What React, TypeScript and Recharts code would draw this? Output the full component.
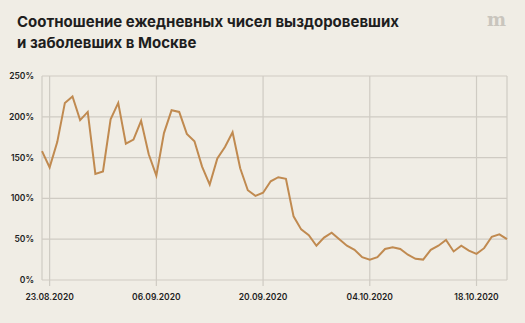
import React from 'react';
import { LineChart, Line, XAxis, YAxis, CartesianGrid } from 'recharts';

const dates = [
  '22.08.2020', '23.08.2020', '24.08.2020', '25.08.2020', '26.08.2020', '27.08.2020', '28.08.2020',
  '29.08.2020', '30.08.2020', '31.08.2020', '01.09.2020', '02.09.2020', '03.09.2020', '04.09.2020',
  '05.09.2020', '06.09.2020', '07.09.2020', '08.09.2020', '09.09.2020', '10.09.2020', '11.09.2020',
  '12.09.2020', '13.09.2020', '14.09.2020', '15.09.2020', '16.09.2020', '17.09.2020', '18.09.2020',
  '19.09.2020', '20.09.2020', '21.09.2020', '22.09.2020', '23.09.2020', '24.09.2020', '25.09.2020',
  '26.09.2020', '27.09.2020', '28.09.2020', '29.09.2020', '30.09.2020', '01.10.2020', '02.10.2020',
  '03.10.2020', '04.10.2020', '05.10.2020', '06.10.2020', '07.10.2020', '08.10.2020', '09.10.2020',
  '10.10.2020', '11.10.2020', '12.10.2020', '13.10.2020', '14.10.2020', '15.10.2020', '16.10.2020',
  '17.10.2020', '18.10.2020', '19.10.2020', '20.10.2020', '21.10.2020', '22.10.2020',
];

// recovered / new cases, %
const ratio = [
  158, 138, 169, 217, 225, 196, 206, 130, 133, 197, 217, 167, 172, 195,
  154, 128, 180, 208, 206, 179, 170, 139, 117, 149, 163, 181, 137, 110,
  103, 107, 121, 126, 124, 78, 62, 55, 42, 52, 58, 50, 42, 37,
  28, 25, 28, 38, 40, 38, 31, 26, 25, 37, 42, 49, 35, 42,
  36, 32, 39, 53, 56, 50,
];

const xTicks = ['23.08.2020', '06.09.2020', '20.09.2020', '04.10.2020', '18.10.2020'];
const yTicks = [0, 50, 100, 150, 200, 250];

const data = dates.map((date, i) => ({ date, ratio: ratio[i] }));

const BG = '#f0ede5';
const GRID = '#cfcbc3';
const LINE = '#c08a50';
const TEXT = '#1e1e1e';

const tickStyle = { fill: TEXT, fontSize: 8.5, fontWeight: 600, fontFamily: 'Inter' };

const App = () => {
  return (
    <div style={{ position: 'absolute', left: 0, top: 0, width: 525, height: 323, background: BG, overflow: 'hidden' }}>
      <div
        style={{
          position: 'absolute',
          left: 17,
          top: 12,
          fontFamily: 'Inter',
          fontWeight: 700,
          fontSize: 15,
          lineHeight: '20.6px',
          color: TEXT,
        }}
      >
        Соотношение ежедневных чисел выздоровевших
        <br />
        и заболевших в Москве
      </div>
      <div
        style={{
          position: 'absolute',
          left: 487,
          top: 9,
          fontFamily: 'DejaVu Serif',
          fontWeight: 700,
          fontSize: 18,
          color: '#c9c5bd',
        }}
      >
        m
      </div>
      <div style={{ position: 'absolute', left: 0, top: 0 }}>
        <LineChart width={525} height={323} data={data} margin={{ top: 76, right: 18, bottom: 13, left: 0 }}>
          <CartesianGrid stroke={GRID} strokeWidth={1.2} />
          <XAxis
            dataKey="date"
            ticks={xTicks}
            interval={0}
            axisLine={false}
            tickLine={{ stroke: GRID, strokeWidth: 1.2 }}
            tickSize={6}
            tickMargin={8}
            height={30}
            tick={tickStyle}
          />
          <YAxis
            domain={[0, 250]}
            ticks={yTicks}
            tickFormatter={(v) => `${v}%`}
            axisLine={false}
            tickLine={false}
            width={42}
            tick={tickStyle}
          />
          <Line
            type="linear"
            dataKey="ratio"
            stroke={LINE}
            strokeWidth={2}
            dot={false}
            isAnimationActive={false}
          />
        </LineChart>
      </div>
    </div>
  );
};

export default App;
